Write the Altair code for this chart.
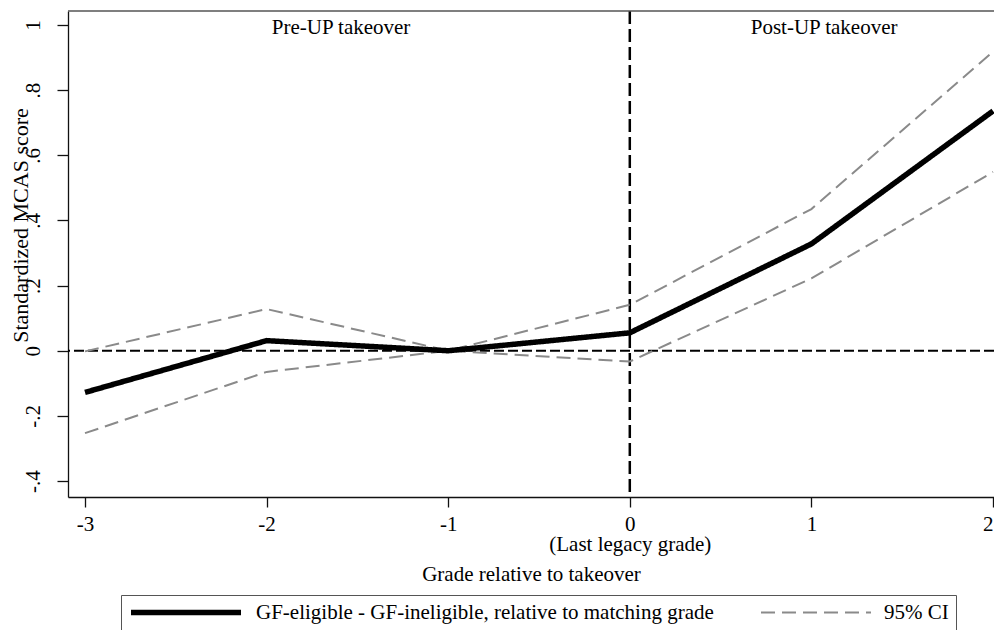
import altair as alt
import pandas as pd

# ---- data ----
grade = [-3, -2, -1, 0, 1, 2]
estimate = [-0.128, 0.031, 0.0, 0.055, 0.328, 0.736]
ci_upper = [-0.002, 0.128, 0.0, 0.141, 0.435, 0.918]
ci_lower = [-0.253, -0.065, 0.0, -0.033, 0.222, 0.549]

x_ticks = [-3, -2, -1, 0, 1, 2]
y_ticks = [-0.4, -0.2, 0.0, 0.2, 0.4, 0.6, 0.8, 1.0]

series_names = ["GF-eligible - GF-ineligible, relative to matching grade", "95% CI"]
panel_labels = ["Pre-UP takeover", "Post-UP takeover"]
panel_label_x = [-1.59, 1.07]
panel_label_y = [0.99, 0.99]

ref_x = [0]
ref_y = [0]

FONT = "Liberation Serif"
W, H = 926, 486

main_df = pd.DataFrame({"grade": grade, "value": estimate,
                        "series": series_names[0], "part": "est"})
ci_df = pd.concat([
    pd.DataFrame({"grade": grade, "value": ci_upper, "series": series_names[1], "part": "upper"}),
    pd.DataFrame({"grade": grade, "value": ci_lower, "series": series_names[1], "part": "lower"}),
], ignore_index=True)
label_df = pd.DataFrame({"x": panel_label_x, "y": panel_label_y, "text": panel_labels})

xs = alt.Scale(domain=[-3.0936, 2.0055], nice=False, zero=False)
ys = alt.Scale(domain=[-0.449, 1.043], nice=False, zero=False)

x_axis = alt.Axis(
    values=x_ticks, title="Grade relative to takeover", grid=False,
    labelExpr="datum.value == 0 ? ['0', '(Last legacy grade)'] : toString(datum.value)",
    tickSize=10, labelPadding=6, labelLineHeight=20, labelFlush=3, labelOverlap=False,
    titleY=77, titleBaseline="middle", titleAlign="center",
)
y_axis = alt.Axis(
    values=y_ticks, title="Standardized MCAS score", grid=False,
    labelExpr="replace(toString(datum.value), '0.', '.')",
    labelAngle=270, labelAlign="center", labelBaseline="bottom",
    tickSize=11, labelPadding=14, labelFlush=False, labelOverlap=False,
    titleX=-48, titleY=214, titleAngle=270, titleAlign="center", titleBaseline="middle",
    titleFontSize=22,
)

leg = dict(title=None, orient="none", legendX=53, legendY=584, direction="horizontal",
           symbolType="stroke", symbolSize=12100, clipHeight=21,
           labelFont=FONT, labelFontSize=21,
           labelLimit=800, labelOffset=12, columnPadding=46, padding=7,
           strokeColor="#555555", fillColor="white", labelColor="#000000")

enc = dict(
    x=alt.X("grade:Q", scale=xs, axis=x_axis),
    y=alt.Y("value:Q", scale=ys, axis=y_axis),
    color=alt.Color("series:N", scale=alt.Scale(domain=series_names, range=["#000000", "#8a8a8a"]),
                    legend=alt.Legend(**leg)),
    strokeDash=alt.StrokeDash("series:N", scale=alt.Scale(domain=series_names, range=[[1, 0], [14, 7]]),
                              legend=alt.Legend(**leg)),
    strokeWidth=alt.StrokeWidth("series:N", scale=alt.Scale(type="ordinal", domain=series_names, range=[5.5, 2]),
                                legend=alt.Legend(**leg)),
    detail="part:N",
)

hline = alt.Chart(pd.DataFrame({"y": ref_y})).mark_rule(
    color="#000000", strokeWidth=2, strokeDash=[10, 4]).encode(y=alt.Y("y:Q", scale=ys))
vline = alt.Chart(pd.DataFrame({"x": ref_x})).mark_rule(
    color="#000000", strokeWidth=2.5, strokeDash=[13, 5]).encode(x=alt.X("x:Q", scale=xs))

ci_lines = alt.Chart(ci_df).mark_line().encode(**enc)
main_line = alt.Chart(main_df).mark_line(strokeJoin="miter").encode(**enc)

texts = alt.Chart(label_df).mark_text(font=FONT, fontSize=21, align="center", baseline="middle",
                                      color="#000000").encode(
    x=alt.X("x:Q", scale=xs), y=alt.Y("y:Q", scale=ys), text="text:N")

top_border = alt.Chart(pd.DataFrame({"a": [0]})).mark_rule(color="#555555", strokeWidth=1.5).encode(
    x=alt.value(0), x2=alt.value(W), y=alt.value(0))

chart = alt.layer(hline, vline, ci_lines, main_line, texts, top_border).properties(
    width=W, height=H,
    autosize=alt.AutoSizeParams(type="none"),
    padding={"left": 60, "top": 3, "right": 0, "bottom": 133},
    background="white",
).configure_view(strokeWidth=0).configure_axis(
    domainColor="#111111", domainWidth=1.3, tickColor="#111111", tickWidth=1.3,
    labelFont=FONT, labelFontSize=21, labelColor="#000000",
    titleFont=FONT, titleFontSize=21, titleFontWeight="normal", titleColor="#000000",
)

chart.save("out.html", embed_options={"renderer": "svg", "actions": False})
